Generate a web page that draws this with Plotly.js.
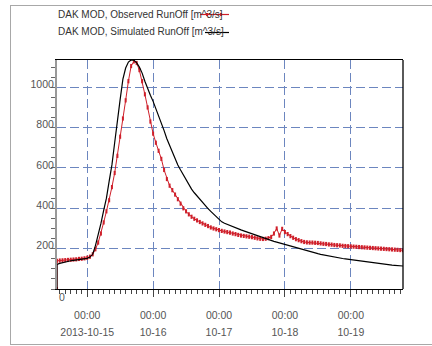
<!DOCTYPE html>
<html>
<head>
<meta charset="utf-8">
<script src="https://cdn.plot.ly/plotly-3.0.1.min.js"></script>
<style>
  html, body { margin: 0; padding: 0; background: #fff; overflow: hidden; }
  #wrap { position: relative; width: 432px; height: 346px; }
  #chart { position: absolute; left: 0; top: 0; width: 432px; height: 346px; }
  #frame { position: absolute; left: 10px; top: 5px; width: 460px; height: 338px;
           border: 1px solid #a8a8a8; pointer-events: none; }
</style>
</head>
<body>
<div id="wrap"><div id="chart"></div><div id="frame"></div></div>
<script>
// ---- data (hourly, starting 2013-10-14 13:00; first value is the zero start point) ----
const startTime = '2013-10-14T13:00:00';
const seriesNames = ['DAK MOD, Observed RunOff [m^3/s]', 'DAK MOD, Simulated RunOff [m^3/s]'];
const observed = [0,
  140,141,142,143,144,145,146,147,149,150,152,155,
  160,172,
  197,230,275,330,385,440,505,575,660,755,845,935,1030,1105,1128,1120,
  1085,1030,965,900,830,770,725,685,645,590,545,512,490,468,445,423,400,385,370,358,
  348,340,332,325,318,312,305,300,296,292,288,285,282,279,275,272,268,265,263,261,
  259,257,254,251,249,248,249,
  252,258,275,300,265,298,282,272,262,254,247,242,237,233,231,230,230,229,228,226,
  224,223,221,220,218,217,216,214,213,212,211,210,209,208,207,206,205,204,203,202,
  201,200,199,198,197,196,195,194,193,192];
const simulated = [0,
  122,127,131,134,137,140,142,144,146,148,150,152,
  158,172,
  215,265,325,390,450,535,615,725,820,940,1040,1095,1125,1135,1134,1122,
  1100,1070,1030,990,960,930,895,860,825,785,
  745,710,675,645,615,590,565,540,515,495,
  477,460,443,427,412,398,385,372,358,345,
  333,326,320,314,308,303,298,293,288,283,
  278,273,268,263,258,253,248,244,240,236,
  232,228,224,220,216,212,208,204,200,196,
  192,188,185,181,178,175,172,169,166,163,
  160,158,155,153,151,149,147,145,143,141,
  139,137,135,133,131,129,127,126,124,122,
  121,119,118,117,116,115,114];
const dayTicks = ['2013-10-15', '2013-10-16', '2013-10-17', '2013-10-18', '2013-10-19'];
const timeTickText = ['00:00', '00:00', '00:00', '00:00', '00:00'];
const dateTickText = ['2013-10-15', '10-16', '10-17', '10-18', '10-19'];
const yTicks = [200, 400, 600, 800, 1000];
const xRange = ['2013-10-14 13:00', '2013-10-19 19:00'];
const yRange = [0, 1135];

// time stamps: first (zero) point shares the start time, then hourly
function pad(n) { return (n < 10 ? '0' : '') + n; }
function fmt(d) {
  return d.getUTCFullYear() + '-' + pad(d.getUTCMonth() + 1) + '-' + pad(d.getUTCDate()) +
    ' ' + pad(d.getUTCHours()) + ':00';
}
const t0 = Date.parse(startTime + 'Z');
const times = observed.map((_, i) => fmt(new Date(t0 + Math.max(0, i - 1) * 3600000)));

// ---- layout geometry ----
const W = 432, H = 346;
const M = { l: 57, r: 29, t: 60, b: 57 };
const pw = W - M.l - M.r, ph = H - M.t - M.b;
const px = x => (x - M.l) / pw;
const py = y => (H - M.b - y) / ph;

const RED = '#cf1f2a';
const GRID = '#6c86bf';
const FONT = '"Liberation Sans", sans-serif';
const TICKFONT = { family: FONT, size: 10.5, color: '#555' };

const traces = [
  { x: times, y: observed, name: seriesNames[0], type: 'scatter', mode: 'lines+markers',
    line: { color: RED, width: 1 },
    marker: { symbol: 'line-ns-open', size: 3, color: RED, line: { color: RED, width: 2 } } },
  { x: times, y: simulated, name: seriesNames[1], type: 'scatter', mode: 'lines',
    line: { color: '#000', width: 1.2 } },
  // empty trace only to carry the second (date) label row
  { x: [], y: [], xaxis: 'x2', type: 'scatter', mode: 'lines', hoverinfo: 'skip' }
];

const legendShapes = [
  { type: 'line', xref: 'paper', yref: 'paper', x0: px(200), x1: px(229), y0: py(14.5), y1: py(14.5),
    line: { color: RED, width: 1.2 } },
  { type: 'line', xref: 'paper', yref: 'paper', x0: px(207), x1: px(207), y0: py(13), y1: py(16),
    line: { color: RED, width: 2 } },
  { type: 'line', xref: 'paper', yref: 'paper', x0: px(221), x1: px(221), y0: py(13), y1: py(16),
    line: { color: RED, width: 2 } },
  { type: 'line', xref: 'paper', yref: 'paper', x0: px(205), x1: px(229), y0: py(32.5), y1: py(32.5),
    line: { color: '#000', width: 1.2 } },
  { type: 'line', xref: 'paper', yref: 'paper', x0: 1, x1: 1, y0: 0, y1: 1,
    line: { color: '#000', width: 1.3 } }
];

const layout = {
  width: W, height: H,
  margin: M,
  paper_bgcolor: 'rgba(0,0,0,0)', plot_bgcolor: '#fff',
  showlegend: false,
  font: { family: FONT, size: 11, color: '#555' },
  xaxis: {
    type: 'date', range: xRange,
    tickvals: dayTicks, ticktext: timeTickText,
    ticks: 'outside', ticklen: 7, tickcolor: '#444', tickwidth: 1,
    minor: { dtick: 7200000, ticks: 'outside', ticklen: 4, tickcolor: '#444', showgrid: false },
    showgrid: true, gridcolor: GRID, griddash: '9px,4px', gridwidth: 1,
    showline: true, linecolor: '#000', linewidth: 1.3, mirror: true,
    zeroline: false, ticklabelstandoff: 9,
    tickfont: TICKFONT
  },
  xaxis2: {
    type: 'date', range: xRange, overlaying: 'x', side: 'bottom', anchor: 'y',
    tickvals: dayTicks, ticktext: dateTickText,
    ticks: '', showgrid: false, showline: false, zeroline: false,
    ticklabelstandoff: 35, tickfont: TICKFONT
  },
  yaxis: {
    range: yRange, tickvals: yTicks,
    ticks: 'outside', ticklen: 4, tickcolor: '#666',
    minor: { dtick: 50, ticks: 'outside', ticklen: 4, tickcolor: '#666', showgrid: false },
    showgrid: true, gridcolor: GRID, griddash: '9px,4px', gridwidth: 1,
    showline: true, linecolor: '#999', linewidth: 2,
    zeroline: false, ticklabelstandoff: -5, ticklabelshift: -3,
    tickfont: TICKFONT
  },
  shapes: legendShapes,
  annotations: [
    { xref: 'paper', yref: 'paper', x: px(56), y: py(14.5), xanchor: 'left', yanchor: 'middle',
      text: seriesNames[0], showarrow: false, font: { family: FONT, size: 10, color: '#333' } },
    { xref: 'paper', yref: 'paper', x: px(56), y: py(32), xanchor: 'left', yanchor: 'middle',
      text: seriesNames[1], showarrow: false, font: { family: FONT, size: 10, color: '#333' } },
    { xref: 'paper', yref: 'paper', x: px(57), y: 0, xanchor: 'left', yanchor: 'top',
      text: '0', showarrow: false, font: TICKFONT }
  ]
};

Plotly.newPlot('chart', traces, layout, { staticPlot: true, displayModeBar: false });
</script>
</body>
</html>
